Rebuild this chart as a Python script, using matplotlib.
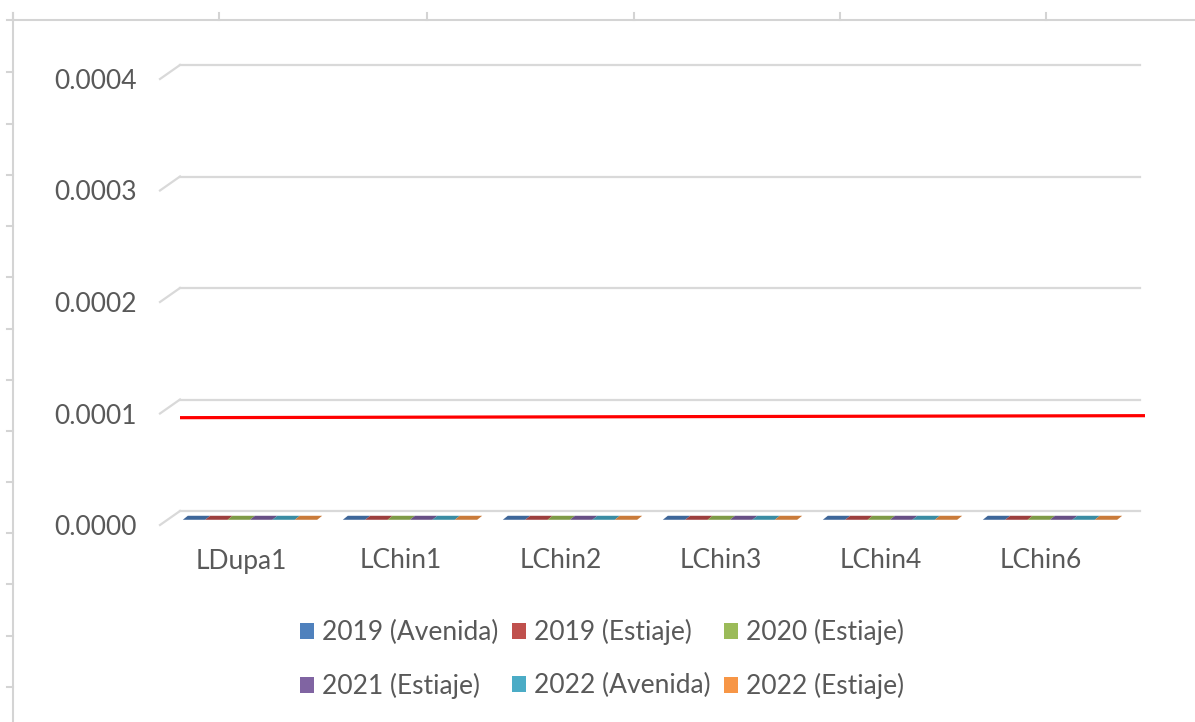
import matplotlib.pyplot as plt
import matplotlib.transforms as mtransforms
from matplotlib.lines import Line2D
from matplotlib.patches import Patch
import numpy as np

plt.rcParams['font.family'] = ['Lato', 'DejaVu Sans']

W, H = 1195, 722  # tamaño de la imagen en pixeles

categories = ['LDupa1', 'LChin1', 'LChin2', 'LChin3', 'LChin4', 'LChin6']
series = ['2019 (Avenida)', '2019 (Estiaje)', '2020 (Estiaje)',
          '2021 (Estiaje)', '2022 (Avenida)', '2022 (Estiaje)']
v2019_avenida = [0.0000002, 0.0000002, 0.0000002, 0.0000002, 0.0000002, 0.0000002]
v2019_estiaje = [0.0000002, 0.0000002, 0.0000002, 0.0000002, 0.0000002, 0.0000002]
v2020_estiaje = [0.0000002, 0.0000002, 0.0000002, 0.0000002, 0.0000002, 0.0000002]
v2021_estiaje = [0.0000002, 0.0000002, 0.0000002, 0.0000002, 0.0000002, 0.0000002]
v2022_avenida = [0.0000002, 0.0000002, 0.0000002, 0.0000002, 0.0000002, 0.0000002]
v2022_estiaje = [0.0000002, 0.0000002, 0.0000002, 0.0000002, 0.0000002, 0.0000002]
values = [v2019_avenida, v2019_estiaje, v2020_estiaje,
          v2021_estiaje, v2022_avenida, v2022_estiaje]
limit_line = [0.0000837, 0.0000855]  # linea roja (extremo izq, extremo der)
yticks = [0.0, 0.0001, 0.0002, 0.0003, 0.0004]

colors = ['#4F81BD', '#C0504D', '#9BBB59', '#8064A2', '#4BACC6', '#F79646']
top_colors = ['#3D6699', '#9C3F3D', '#7E9A46', '#674F85', '#3A8CA3', '#C97A39']
grid_color = '#d9d9d9'
text_color = '#595959'

fig = plt.figure(figsize=(W / 100, H / 100), dpi=100)
ax = fig.add_axes([180 / W, 1 - 511 / H, 960 / W, 446 / H])
x0, x1 = -0.4375, 5.5625
ax.set_xlim(x0, x1)
ax.set_ylim(0, 0.0004)
px_x = (x1 - x0) / 960
px_y = 0.0004 / 446

# lineas de cuadricula con el tramo inclinado (efecto 3D)
for v in yticks:
    ax.axhline(v, color=grid_color, lw=1.6, zorder=1, clip_on=False)
    ax.plot([x0 - 20 * px_x, x0], [v - 14 * px_y, v], color=grid_color,
            lw=1.6, clip_on=False, zorder=1)

# barras (casi cero): se ve solo la cara superior
bar_w = 0.14
for j, vals in enumerate(values):
    for i, v in enumerate(vals):
        xl = i - 3 * bar_w + j * bar_w
        xs = [xl, xl + bar_w, xl + bar_w + 5 * px_x, xl + 5 * px_x]
        ys = [v - 9 * px_y, v - 9 * px_y, v - 5 * px_y, v - 5 * px_y]
        ax.fill(xs, ys, color=top_colors[j], lw=0, clip_on=False, zorder=3)

# linea roja
ax.plot([x0, x0 + 965 * px_x], limit_line, color='#ff0000', lw=2.3,
        clip_on=False, zorder=4, solid_capstyle='butt')

ax.set_yticks(yticks)
ax.set_yticklabels([f'{v:.4f}' for v in yticks])
ax.set_xticks(range(len(categories)))
ax.set_xticklabels(categories)
ax.tick_params(axis='y', length=0, pad=31, labelsize=19, labelcolor=text_color)
ax.tick_params(axis='x', length=0, pad=27, labelsize=19, labelcolor=text_color)
for lab in ax.get_yticklabels():
    lab.set_transform(lab.get_transform() +
                      mtransforms.ScaledTranslation(0, -14 / 100, fig.dpi_scale_trans))
for lab in ax.get_xticklabels():
    lab.set_transform(lab.get_transform() +
                      mtransforms.ScaledTranslation(-9 / 100, 0, fig.dpi_scale_trans))
for s in ax.spines.values():
    s.set_visible(False)

# leyenda en dos filas (orden por filas)
handles = [Patch(facecolor=c, edgecolor='none') for c in colors]
order = [0, 3, 1, 4, 2, 5]
fig.legend([handles[k] for k in order], [series[k] for k in order], ncol=3,
           loc='center', bbox_to_anchor=(602 / W, 1 - 659 / H), frameon=False,
           fontsize=19, handlelength=0.55, handleheight=0.55, handletextpad=0.3,
           columnspacing=0.5, labelspacing=1.05, labelcolor=text_color)

# bordes de celdas de la hoja
def fig_line(xa, ya, xb, yb):
    fig.add_artist(Line2D([xa / W, xb / W], [1 - ya / H, 1 - yb / H],
                          color='#d4d4d4', lw=1.5, transform=fig.transFigure))

fig_line(7, 20, W, 20)
fig_line(13, 13, 13, H)
for x in [13, 219, 427, 634, 840, 1046]:
    fig_line(x, 13, x, 20)
for y in [72, 124, 175, 226, 277, 329, 380, 431, 482, 533, 584, 636, 687]:
    fig_line(7, y, 13, y)

fig.savefig('out.png', dpi=100)
